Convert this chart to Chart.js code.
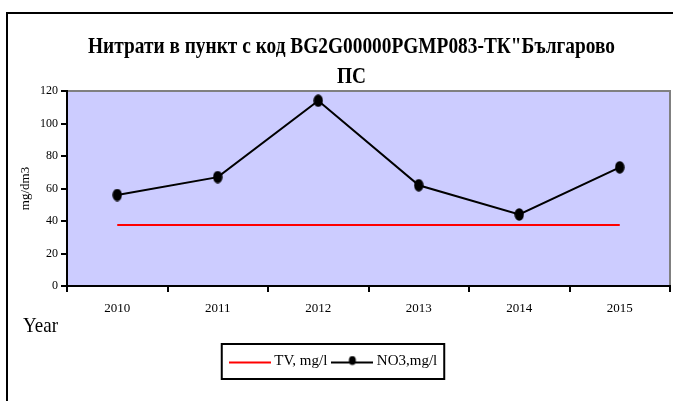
<!DOCTYPE html>
<html>
<head>
<meta charset="utf-8">
<script src="https://cdn.jsdelivr.net/npm/chart.js@4.4.1/dist/chart.umd.min.js"></script>
<style>
  html, body { margin: 0; padding: 0; background: #fff; }
  #wrap { position: relative; width: 673px; height: 401px; }
</style>
</head>
<body>
<div id="wrap"><canvas id="nitrateChart" width="673" height="401"></canvas></div>
<script>
var YEARS = ['2010', '2011', '2012', '2013', '2014', '2015'];
var TV_VALUES = [37.5, 37.5, 37.5, 37.5, 37.5, 37.5];
var NO3_VALUES = [56, 67, 114, 62, 44, 73];
var Y_MIN = 0;
var Y_MAX = 120;
var Y_STEP = 20;
var TITLE_LINES = ['Нитрати в пункт с код BG2G00000PGMP083-ТК"Българово', 'ПС'];
var SERIES_LABELS = ['TV, mg/l', 'NO3,mg/l'];
var Y_LABEL = 'mg/dm3';
var X_LABEL = 'Year';

(function () {
  'use strict';

  var SERIF = '"Liberation Serif", "Times New Roman", serif';
  var PLOT_BG = '#ccccff';
  var TV_COLOR = '#ff0000';
  var NO3_COLOR = '#000000';

  // black oval marker, a bit taller than wide
  function makeMarker(w, h) {
    var c = document.createElement('canvas');
    c.width = w;
    c.height = h;
    var ctx = c.getContext('2d');
    ctx.fillStyle = NO3_COLOR;
    ctx.beginPath();
    ctx.ellipse(w / 2, h / 2, w / 2 - 0.3, h / 2 - 0.3, 0, 0, Math.PI * 2);
    ctx.fill();
    return c;
  }

  // legend swatch: a short line, optionally with a dot in the middle
  function makeLegendMark(color, withDot) {
    var c = document.createElement('canvas');
    c.width = 42;
    c.height = 12;
    var ctx = c.getContext('2d');
    ctx.strokeStyle = color;
    ctx.lineWidth = 2;
    ctx.beginPath();
    ctx.moveTo(0, 7);
    ctx.lineTo(42, 7);
    ctx.stroke();
    if (withDot) {
      ctx.fillStyle = color;
      ctx.beginPath();
      ctx.ellipse(21, 5, 3.5, 4.5, 0, 0, Math.PI * 2);
      ctx.fill();
    }
    return c;
  }

  function drawSqueezed(ctx, text, x, y, k, align) {
    ctx.save();
    ctx.translate(x, y);
    ctx.scale(k, 1);
    ctx.textAlign = align;
    ctx.fillText(text, 0, 0);
    ctx.restore();
  }

  var chartFrame = {
    id: 'chartFrame',
    beforeDraw: function (chart) {
      var ctx = chart.ctx;
      var a = chart.chartArea;
      ctx.save();
      ctx.fillStyle = '#fff';
      ctx.fillRect(0, 0, chart.width, chart.height);
      ctx.fillStyle = PLOT_BG;
      ctx.fillRect(a.left, a.top, a.right - a.left, a.bottom - a.top);
      ctx.strokeStyle = '#000';
      ctx.lineWidth = 2;
      ctx.beginPath();
      ctx.moveTo(7, chart.height);
      ctx.lineTo(7, 13);
      ctx.lineTo(chart.width, 13);
      ctx.stroke();
      ctx.strokeStyle = '#808080';
      ctx.beginPath();
      ctx.moveTo(a.left, a.top);
      ctx.lineTo(a.right, a.top);
      ctx.lineTo(a.right, a.bottom);
      ctx.stroke();
      ctx.restore();
    }
  };

  var chartTexts = {
    id: 'chartTexts',
    afterDraw: function (chart) {
      var ctx = chart.ctx;
      ctx.save();
      ctx.fillStyle = '#000';
      ctx.textBaseline = 'alphabetic';

      ctx.font = 'bold 24px ' + SERIF;
      var k = Math.min(1, 527 / ctx.measureText(TITLE_LINES[0]).width);
      drawSqueezed(ctx, TITLE_LINES[0], 351.5, 53, k, 'center');
      drawSqueezed(ctx, TITLE_LINES[1], 351.5, 83, k, 'center');

      ctx.font = '22px ' + SERIF;
      var ky = Math.min(1, 35 / ctx.measureText(X_LABEL).width);
      drawSqueezed(ctx, X_LABEL, 23, 331.5, ky, 'left');

      // box round the legend
      var boxes = chart.legend.legendHitBoxes;
      if (boxes && boxes.length) {
        var first = boxes[0];
        var last = boxes[boxes.length - 1];
        var cy = first.top + first.height / 2;
        var x0 = first.left - 11;
        var x1 = last.left + last.width + 7;
        ctx.strokeStyle = '#000';
        ctx.lineWidth = 2;
        ctx.strokeRect(x0, cy - 17.5, x1 - x0, 35);
      }
      ctx.restore();
    }
  };

  Chart.defaults.font.family = SERIF;
  Chart.defaults.color = '#000';

  var tvMark = makeLegendMark(TV_COLOR, false);
  var no3Mark = makeLegendMark(NO3_COLOR, true);

  var ctx = document.getElementById('nitrateChart').getContext('2d');
  new Chart(ctx, {
    type: 'line',
    data: {
      labels: YEARS,
      datasets: [
        {
          label: SERIES_LABELS[0],
          data: TV_VALUES,
          borderColor: TV_COLOR,
          borderWidth: 2,
          pointRadius: 0,
          fill: false,
          tension: 0
        },
        {
          label: SERIES_LABELS[1],
          data: NO3_VALUES,
          borderColor: NO3_COLOR,
          borderWidth: 2,
          pointStyle: makeMarker(10, 13),
          pointRadius: 5,
          fill: false,
          tension: 0
        }
      ]
    },
    options: {
      responsive: false,
      animation: false,
      events: [],
      layout: { autoPadding: false, padding: { top: 91, right: 3, bottom: 22, left: 0 } },
      plugins: {
        title: { display: false },
        tooltip: { enabled: false },
        legend: {
          position: 'bottom',
          labels: {
            usePointStyle: true,
            pointStyleWidth: 34,
            boxHeight: 12,
            padding: 8,
            color: '#000',
            font: { size: 15, family: SERIF },
            generateLabels: function (chart) {
              return chart.data.datasets.map(function (ds, i) {
                return {
                  text: ds.label,
                  pointStyle: i === 0 ? tvMark : no3Mark,
                  fillStyle: ds.borderColor,
                  strokeStyle: ds.borderColor,
                  lineWidth: 0,
                  hidden: false,
                  datasetIndex: i
                };
              });
            }
          }
        }
      },
      scales: {
        x: {
          type: 'category',
          offset: true,
          afterFit: function (scale) { scale.height = 60; },
          grid: {
            offset: true,
            drawOnChartArea: false,
            drawTicks: true,
            tickLength: 6,
            color: '#000',
            lineWidth: 2
          },
          border: { display: true, color: '#000', width: 2 },
          ticks: { padding: 9, font: { size: 13 }, color: '#000', maxRotation: 0 }
        },
        y: {
          min: Y_MIN,
          max: Y_MAX,
          afterFit: function (scale) { scale.width = 67; },
          grid: {
            drawOnChartArea: false,
            drawTicks: true,
            tickLength: 6,
            color: '#000',
            lineWidth: 2
          },
          border: { display: true, color: '#000', width: 2 },
          ticks: { stepSize: Y_STEP, padding: 3, font: { size: 12 }, color: '#000' },
          title: {
            display: true,
            text: Y_LABEL,
            font: { size: 13, family: SERIF },
            color: '#000',
            padding: { top: 18, bottom: 0 }
          }
        }
      }
    },
    plugins: [chartFrame, chartTexts]
  });
})();
</script>
</body>
</html>
